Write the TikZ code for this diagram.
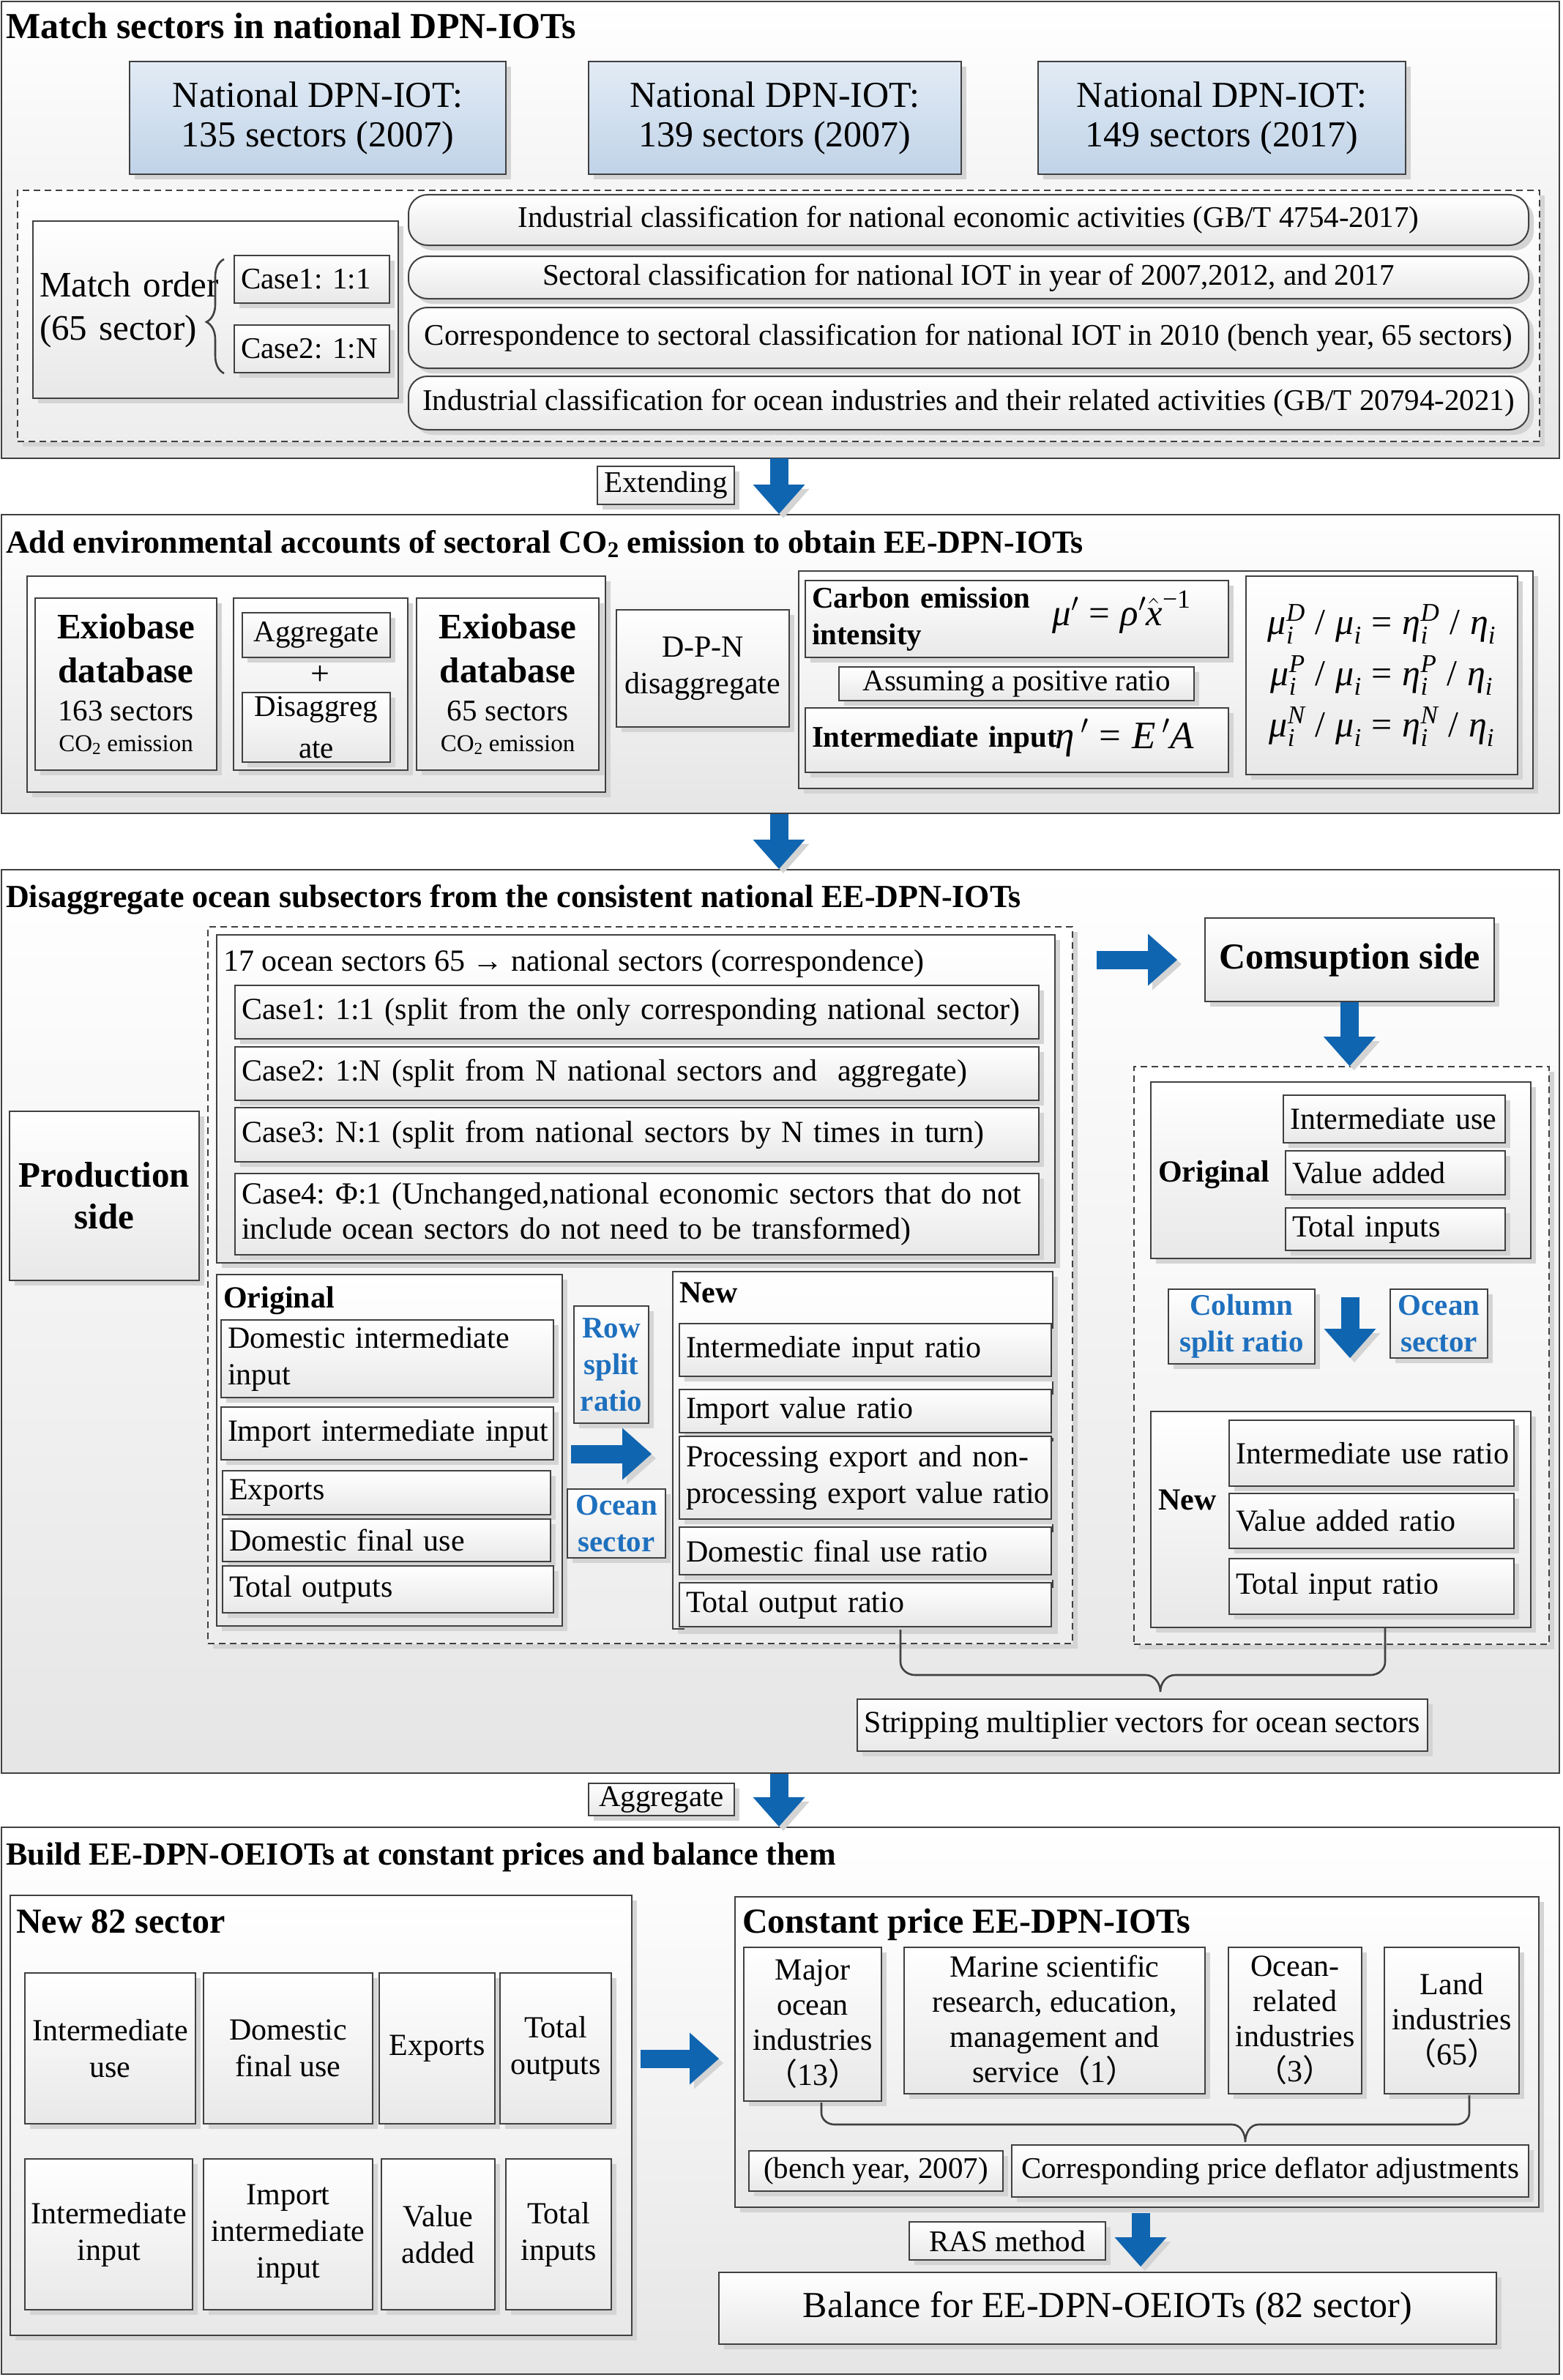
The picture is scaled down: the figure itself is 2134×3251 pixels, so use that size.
\RequirePackage{fix-cm}
\documentclass[tikz,border=0pt]{standalone}
\usepackage{amsmath}
\usepackage{fontspec}
\setmainfont{Liberation Serif}
\newfontfamily\cjk{Noto Sans CJK SC}
\usetikzlibrary{shadows,decorations.pathreplacing,arrows.meta,calc}
\frenchspacing
\definecolor{arrowblue}{RGB}{16,101,176}
\definecolor{textblue}{RGB}{30,112,190}
\definecolor{boxblueT}{RGB}{226,235,245}
\definecolor{boxblueB}{RGB}{192,211,232}
\definecolor{shadowgray}{RGB}{212,212,212}
\definecolor{linegray}{RGB}{64,64,64}
\newcommand{\fs}[2]{\fontsize{#1pt}{#2pt}\selectfont}
\newcommand{\tit}[1]{\text{\itshape #1}}
\newcommand{\mtx}[1]{\text{\upshape #1}}
\newcommand{\flp}{{\cjk （}}
\newcommand{\frp}{{\cjk ）}}
\newcommand{\frm}[1]{$\tit{μ}_{\tit{i}}^{\tit{#1}}\;\mtx{/}\;\tit{μ}_{\tit{i}}\mathrel{\mtx{=}}\tit{η}_{\tit{i}}^{\tit{#1}}\;\mtx{/}\;\tit{η}_{\tit{i}}$}
\newcommand{\bxn}[7]{%
  \pgfmathsetmacro\bxw{#5-#3}\pgfmathsetmacro\bxh{#6-#4}%
  \pgfmathsetmacro\bxt{#5-#3-18}%
  \pgfmathsetmacro\bxx{(#3+#5)/2}\pgfmathsetmacro\bxy{(#4+#6)/2}%
  \node[inner sep=0pt,minimum width=\bxw pt,minimum height=\bxh pt,#1] (#2) at (\bxx,\bxy) {#7};}
\tikzset{
  sect/.style={draw=linegray,line width=2.2pt,top color=white,bottom color=black!10},
  shd/.style={general shadow={fill=shadowgray,shadow xshift=7pt,shadow yshift=-7pt}},
  bx/.style={shd,draw=linegray,line width=2pt,top color=white,bottom color=black!9,align=center,font=\fs{42}{50}},
  bluebx/.style={bx,top color=boxblueT,bottom color=boxblueB,font=\fs{50}{54}},
  dsh/.style={shd,draw=linegray,line width=1.6pt,dash pattern=on 9pt off 6pt,top color=white,bottom color=black!7},
  rbx/.style={bx,rounded corners=26pt,font=\fs{41}{48}},
  lt/.style={align=left,text width=\bxt pt,inner xsep=9pt},
  plain/.style={shd,draw=linegray,line width=2pt,top color=white,bottom color=black!9},
  ttl/.style={anchor=base west,font=\bfseries\fs{44}{50},inner sep=0pt},
  lbl/.style={anchor=base west,font=\bfseries\fs{42}{50},inner sep=0pt},
  bluet/.style={bx,font=\bfseries\fs{41}{50},text=textblue},
  barrow/.style={draw=arrowblue,line width=25pt,-{Triangle[length=40pt,width=71pt,line width=0pt]},
    preaction={draw=shadowgray,transform canvas={xshift=6pt,yshift=-6pt}}},
  brc/.style={draw=linegray,line width=2.6pt},
}
\begin{document}
\begin{tikzpicture}[x=1pt,y=-1pt]
\fill[white] (0,0) rectangle (2134,3251);
\useasboundingbox (0,0) rectangle (2134,3251);

% ---------------- Section 1
\bxn{sect}{s1}{2}{2}{2130}{626}{}
\node[ttl,font=\bfseries\fs{50}{56}] (t1) at (8,53) {Match sectors in national DPN-IOTs};
\bxn{bluebx}{nat1}{177}{84}{691}{238}{National DPN-IOT:\\135 sectors (2007)}
\bxn{bluebx}{nat2}{804}{84}{1313}{238}{National DPN-IOT:\\139 sectors (2007)}
\bxn{bluebx}{nat3}{1418}{84}{1920}{238}{National DPN-IOT:\\149 sectors (2017)}
\bxn{dsh}{d1}{24}{260}{2103}{603}{}
\bxn{bx,lt,inner xsep=7pt,font=\fs{49}{59}}{mo}{45}{302}{544}{544}{\mbox{Match order}\\(65 sector)}
\bxn{bx,lt,inner xsep=7pt,font=\fs{41}{48}}{c1}{320}{349}{532}{414}{\mbox{Case1: 1:1}}
\bxn{bx,lt,inner xsep=7pt,font=\fs{41}{48}}{c2}{320}{444}{532}{509}{\mbox{Case2: 1:N}}
\coordinate (brb) at (306,510);
\coordinate (brt) at (306,354);
\draw[brc,decorate,decoration={brace,amplitude=24pt,aspect=0.45}] (brb) -- (brt);
\bxn{rbx}{cl1}{558}{266}{2088}{335}{Industrial classification for national economic activities (GB/T 4754-2017)}
\bxn{rbx}{cl2}{558}{350}{2088}{408}{Sectoral classification for national IOT in year of 2007,2012, and 2017}
\bxn{rbx}{cl3}{558}{420}{2088}{503}{Correspondence to sectoral classification for national IOT in 2010 (bench year, 65 sectors)}
\bxn{rbx}{cl4}{558}{514}{2088}{587}{Industrial classification for ocean industries and their related activities (GB/T 20794-2021)}

% ---------------- Section 2
\bxn{sect}{s2}{2}{703}{2130}{1111}{}
\bxn{bx,font=\fs{41}{48}}{ext}{816}{637}{1003}{689}{Extending}
\coordinate (a1s) at (1064,626);
\draw[barrow] (a1s) -- (a1s |- s2.north);
\node[ttl] (t2) at (8,755) {Add environmental accounts of sectoral CO\textsubscript{2} emission to obtain EE-DPN-IOTs};
\bxn{plain}{g1}{37}{787}{827}{1082}{}
\bxn{bx,font=\fs{41}{52}}{ex1}{48}{817}{296}{1052}{{\bfseries\fs{49}{52}Exiobase}\\[8pt]{\bfseries\fs{49}{52}database}\\{163 sectors}\\[-10pt]{\fs{33}{40}CO\textsubscript{2} emission}}
\bxn{bx}{mid}{319}{817}{557}{1052}{}
\bxn{bx,font=\fs{41}{48}}{agg}{331}{837}{533}{898}{Aggregate}
\node[font=\fs{46}{48},inner sep=0pt] (plus) at (437,922) {+};
\bxn{bx,font=\fs{41}{57}}{dis}{331}{946}{533}{1041}{Disaggreg\\ate}
\bxn{bx,font=\fs{41}{52}}{ex2}{569}{817}{818}{1052}{{\bfseries\fs{49}{52}Exiobase}\\[8pt]{\bfseries\fs{49}{52}database}\\{65 sectors}\\[-10pt]{\fs{33}{40}CO\textsubscript{2} emission}}
\bxn{bx,font=\fs{42}{50}}{dpn}{842}{833}{1078}{993}{D-P-N\\disaggregate}
\bxn{plain}{g2}{1091}{780}{2094}{1077}{}
\bxn{bx,lt,font=\bfseries\fs{41}{50}}{ce}{1100}{793}{1678}{898}{\mbox{Carbon emission}\\intensity}
\node[anchor=base,font=\fs{51}{54},inner sep=0pt] (cef) at (1532,854) {$\tit{μ}'\mathrel{\mtx{=}}\tit{ρ}'\hat{\tit{x}}^{\mtx{−1}}$};
\bxn{bx,font=\fs{41}{48}}{ap}{1146}{911}{1631}{957}{Assuming a positive ratio}
\bxn{bx,lt,font=\bfseries\fs{41}{48}}{ii}{1100}{967}{1678}{1055}{\mbox{Intermediate input}}
\node[anchor=base west,font=\fs{53}{56},inner sep=0pt] (iif) at (1441,1022) {$\tit{η}\,'\mathrel{\mtx{=}}\tit{E}\,'\tit{A}$};
\bxn{bx,font=\fs{50}{70}}{fm}{1702}{787}{2073}{1058}{\frm{D}\\\frm{P}\\\frm{N}}

% ---------------- Section 3
\bxn{sect}{s3}{2}{1188}{2130}{2422}{}
\coordinate (a2s) at (a1s |- s2.south);
\draw[barrow] (a2s) -- (a2s |- s3.north);
\node[ttl] (t3) at (8,1239) {Disaggregate ocean subsectors from the consistent national EE-DPN-IOTs};
\bxn{bx,font=\bfseries\fs{49}{57}}{prod}{13}{1518}{272}{1749}{Production\\side}
\bxn{dsh}{dL}{284}{1266}{1465}{2245}{}
\bxn{plain}{cases}{296}{1277}{1441}{1725}{}
\node[anchor=base west,font=\fs{42}{50},inner sep=0pt] (casehdr) at (305,1326) {17 ocean sectors 65 → national sectors (correspondence)};
\bxn{bx,lt}{case1}{321}{1346}{1419}{1419}{\mbox{Case1: 1:1 (split from the only corresponding national sector)}}
\bxn{bx,lt}{case2}{321}{1430}{1419}{1503}{\mbox{Case2: 1:N (split from N national sectors and\ \ aggregate)}}
\bxn{bx,lt}{case3}{321}{1513}{1419}{1587}{\mbox{Case3: N:1 (split from national sectors by N times in turn)}}
\bxn{bx,lt,font=\fs{42}{48}}{case4}{321}{1603}{1419}{1714}{\mbox{Case4: Φ:1 (Unchanged,national economic sectors that do not}\\\mbox{include ocean sectors do not need to be transformed)}}
\bxn{plain}{origL}{296}{1741}{768}{2221}{}
\node[lbl] (origLt) at (305,1786) {Original};
\bxn{bx,lt,font=\fs{42}{50}}{oL1}{302}{1803}{756}{1909}{\mbox{Domestic intermediate}\\input}
\bxn{bx,lt}{oL2}{302}{1922}{756}{1994}{\mbox{Import intermediate input}}
\bxn{bx,lt}{oL3}{304}{2009}{752}{2069}{Exports}
\bxn{bx,lt}{oL4}{304}{2075}{752}{2133}{\mbox{Domestic final use}}
\bxn{bx,lt}{oL5}{304}{2139}{756}{2203}{\mbox{Total outputs}}
\bxn{bluet}{rsr}{784}{1784}{886}{1944}{Row\\split\\ratio}
\coordinate (ra1s) at (780,1986);
\coordinate (ra1t) at (890,1986);
\draw[barrow] (ra1s) -- (ra1t);
\bxn{bluet}{osL}{775}{2034}{909}{2128}{Ocean\\sector}
\bxn{plain}{newL}{919}{1737}{1438}{2225}{}
\node[lbl] (newLt) at (928,1779) {New};
\bxn{bx,lt}{nL1}{928}{1808}{1436}{1880}{\mbox{Intermediate input ratio}}
\bxn{bx,lt}{nL2}{928}{1898}{1436}{1957}{\mbox{Import value ratio}}
\bxn{bx,lt,font=\fs{42}{50}}{nL3}{928}{1962}{1436}{2075}{\mbox{Processing export and non-}\\\mbox{processing export value ratio}}
\bxn{bx,lt}{nL4}{928}{2086}{1436}{2151}{\mbox{Domestic final use ratio}}
\bxn{bx,lt}{nL5}{928}{2162}{1436}{2222}{\mbox{Total output ratio}}
\bxn{bx,font=\bfseries\fs{50}{56}}{cons}{1646}{1254}{2041}{1368}{Comsuption side}
\coordinate (ra2s) at (1498,1311);
\coordinate (ra2t) at (1608,1311);
\draw[barrow] (ra2s) -- (ra2t);
\bxn{dsh}{dR}{1549}{1457}{2116}{2246}{}
\draw[barrow] (cons.south) -- (cons.south |- dR.north);
\bxn{plain}{origR}{1572}{1478}{2091}{1719}{}
\node[lbl] (origRt) at (1582,1614) {Original};
\bxn{bx,lt}{oR1}{1753}{1496}{2056}{1561}{\mbox{Intermediate use}}
\bxn{bx,lt}{oR2}{1756}{1572}{2056}{1632}{\mbox{Value added}}
\bxn{bx,lt}{oR3}{1756}{1650}{2056}{1708}{\mbox{Total inputs}}
\bxn{bluet}{csr}{1596}{1761}{1796}{1863}{Column\\split ratio}
\bxn{bluet}{osR}{1899}{1761}{2032}{1855}{Ocean\\sector}
\coordinate (cs1) at (1844,1772);
\coordinate (cs2) at (1844,1855);
\draw[barrow] (cs1) -- (cs2);
\bxn{plain}{newR}{1572}{1928}{2091}{2223}{}
\node[lbl] (newRt) at (1582,2062) {New};
\bxn{bx,lt}{nR1}{1679}{1940}{2068}{2030}{\mbox{Intermediate use ratio}}
\bxn{bx,lt}{nR2}{1679}{2040}{2068}{2115}{\mbox{Value added ratio}}
\bxn{bx,lt}{nR3}{1679}{2129}{2068}{2205}{\mbox{Total input ratio}}
\draw[brc] (1230,2226) -- (1230,2270) to[out=-90,in=180] (1250,2288) -- (1565,2288) to[out=0,in=90] (1585,2311) to[out=90,in=180] (1605,2288) -- (1872,2288) to[out=0,in=-90] (1892,2270) -- (1892,2224);
\bxn{bx}{strip}{1171}{2321}{1950}{2392}{Stripping multiplier vectors for ocean sectors}

% ---------------- Section 4
\bxn{sect}{s4}{2}{2496}{2130}{3243}{}
\bxn{bx,font=\fs{41}{48}}{aggL}{804}{2436}{1003}{2480}{Aggregate}
\coordinate (a3s) at (a1s |- s3.south);
\draw[barrow] (a3s) -- (a3s |- s4.north);
\node[ttl] (t4) at (8,2547) {Build EE-DPN-OEIOTs at constant prices and balance them};
\bxn{plain}{n82}{14}{2589}{863}{3190}{}
\node[lbl,font=\bfseries\fs{48}{56}] (n82t) at (22,2640) {New 82 sector};
\bxn{bx}{iu}{34}{2695}{267}{2901}{Intermediate\\use}
\bxn{bx}{dfu}{278}{2695}{509}{2901}{Domestic\\final use}
\bxn{bx}{exps}{518}{2695}{676}{2901}{Exports}
\bxn{bx}{tout}{683}{2695}{835}{2901}{Total\\outputs}
\bxn{bx}{iin}{34}{2949}{263}{3155}{Intermediate\\input}
\bxn{bx}{iii}{278}{2949}{509}{3155}{Import\\intermediate\\input}
\bxn{bx}{vad}{521}{2949}{676}{3155}{Value\\added}
\bxn{bx}{tin}{691}{2949}{835}{3155}{Total\\inputs}
\coordinate (ra3s) at (875,2812);
\coordinate (ra3t) at (982,2812);
\draw[barrow] (ra3s) -- (ra3t);
\bxn{plain}{cp}{1004}{2591}{2102}{3015}{}
\node[lbl,font=\bfseries\fs{48}{56}] (cpt) at (1014,2640) {Constant price EE-DPN-IOTs};
\bxn{bx,font=\fs{42}{48}}{moi}{1016}{2660}{1204}{2870}{Major\\ocean\\industries\\\flp 13\frp}
\bxn{bx,font=\fs{42}{48}}{msr}{1235}{2660}{1646}{2860}{Marine scientific\\research, education,\\management and\\service\flp 1\frp}
\bxn{bx,font=\fs{42}{48}}{ori}{1678}{2660}{1860}{2860}{Ocean-\\related\\industries\\\flp 3\frp}
\bxn{bx,font=\fs{42}{48}}{land}{1891}{2660}{2075}{2860}{Land\\industries\\\flp 65\frp}
\draw[brc] (1122,2872) -- (1122,2886) to[out=-90,in=180] (1140,2902) -- (1683,2902) to[out=0,in=90] (1701,2926) to[out=90,in=180] (1719,2902) -- (1989,2902) to[out=0,in=-90] (2007,2886) -- (2007,2862);
\bxn{bx,font=\fs{41}{48}}{bench}{1023}{2938}{1370}{2993}{(bench year, 2007)}
\bxn{bx,font=\fs{41}{48}}{cpd}{1382}{2930}{2088}{3001}{Corresponding price deflator adjustments}
\bxn{bx,font=\fs{41}{48}}{ras}{1242}{3035}{1510}{3087}{RAS method}
\coordinate (rs1) at (1558,3023);
\coordinate (rs2) at (1558,3096);
\draw[barrow] (rs1) -- (rs2);
\bxn{bx,font=\fs{50}{56}}{bal}{982}{3104}{2044}{3202}{Balance for EE-DPN-OEIOTs (82 sector)}
\end{tikzpicture}
\end{document}
